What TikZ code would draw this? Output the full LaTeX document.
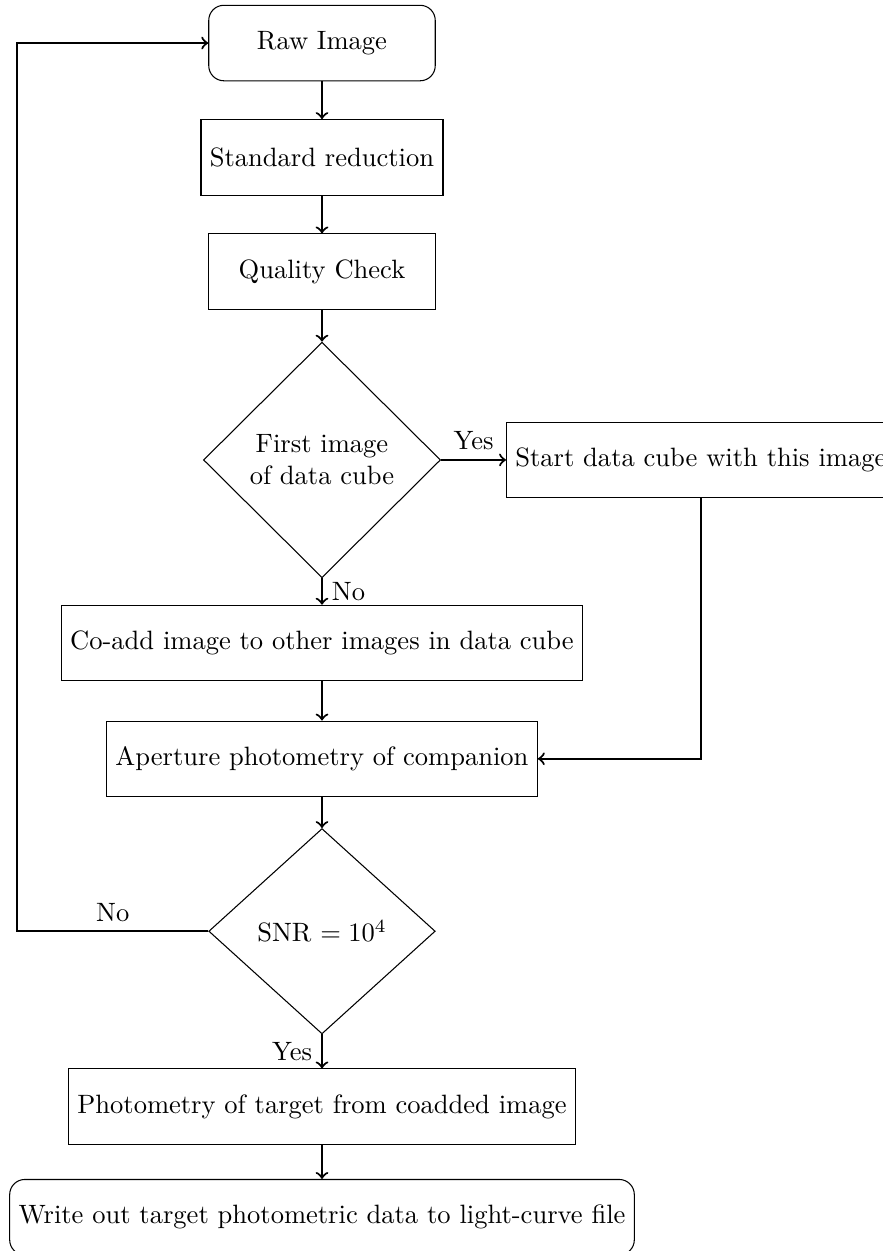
\documentclass[tikz,border=0pt]{standalone}
\usepackage{amsmath}
\usepackage{tikz}
\usetikzlibrary{shapes.geometric, positioning, calc}

\begin{document}
\begin{tikzpicture}[
    terminal/.style={rectangle, draw, rounded corners=2mm, minimum width=3cm, minimum height=1cm},
    process/.style={rectangle, draw, minimum width=3cm, minimum height=1cm},
    decision/.style={diamond, draw, aspect=1, align=center},
    line/.style={draw, thick, ->},
    node distance=0.5cm
]
\useasboundingbox (-4.265,0.57) rectangle (7.43,-16.0);
\node[terminal] (raw) at (0,0) {Raw Image};
\node[process, below=of raw] (reduce) {Standard reduction};
\node[process, below=of reduce] (quality) {Quality Check};
\node[decision, below=0.42cm of quality, minimum width=3.14cm, minimum height=3.12cm] (first) {First image\\of data cube};
\node[process, right=0.86cm of first] (start) {Start data cube with this image};
\node[process, below=0.35cm of first] (coadd) {Co-add image to other images in data cube};
\node[process, below=0.52cm of coadd] (aperture) {Aperture photometry of companion};
\node[decision, below=0.41cm of aperture, minimum width=3cm, minimum height=2.72cm] (snr) {SNR $= 10^4$};
\node[process, below=0.45cm of snr] (target) {Photometry of target from coadded image};
\node[terminal, below=0.45cm of target] (write) {Write out target photometric data to light-curve file};
\coordinate[left=2.53cm of snr.west] (back);

\draw[line] (raw) -- (reduce);
\draw[line] (reduce) -- (quality);
\draw[line] (quality) -- (first);
\draw[line] (first) -- node[above] {Yes} (start);
\draw[line] (first) -- node[right] {No} (coadd);
\draw[line] (coadd) -- (aperture);
\draw[line] (start) |- (aperture);
\draw[line] (aperture) -- (snr);
\draw[line] (snr.west) -- node[above] {No} (back) |- (raw.west);
\draw[line] (snr) -- node[left] {Yes} (target);
\draw[line] (target) -- (write);
\end{tikzpicture}
\end{document}
